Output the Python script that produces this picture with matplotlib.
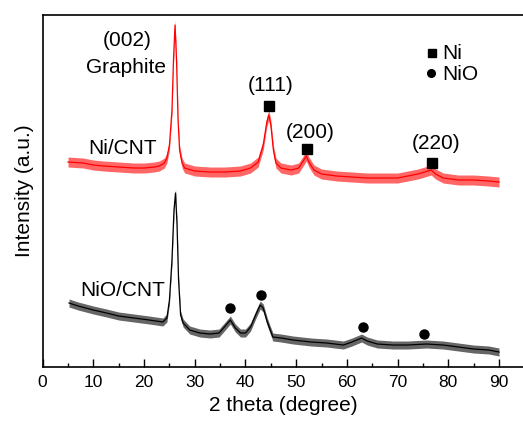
import numpy as np
import matplotlib
matplotlib.use('Agg')
import matplotlib.pyplot as plt
from matplotlib.ticker import MultipleLocator

plt.rcParams['font.family'] = ['Liberation Sans', 'DejaVu Sans']

# Ni/CNT pattern (red)
ni_x = [5, 8, 10, 12, 15, 18, 20, 22, 23, 24, 24.5, 25, 25.5, 25.8, 26.1, 26.4, 26.7, 27,
        27.5, 28, 30, 33, 36, 39, 41, 42.5, 43.5, 44.2, 44.6, 45, 45.5, 46, 47, 49, 50.5,
        51.5, 52, 52.5, 53.5, 55, 58, 61, 64, 67, 70, 72, 74, 76, 76.6, 77.5, 79, 82, 85,
        88, 90]
ni_y = [205, 204, 202, 201, 200, 199, 199, 200, 201, 204, 209, 222, 257, 307, 342, 307, 247, 217,
        204, 199, 196, 195, 195, 196, 199, 205, 222, 245, 252, 242, 217, 204, 199, 197, 199,
        207, 211, 205, 197, 193, 191, 190, 189, 189, 189, 191, 193, 196, 197, 193, 189, 187, 187,
        186, 185]

# NiO/CNT pattern (black)
nio_x = [5.2, 7, 10, 12.6, 15, 18, 21, 23.7, 24.5, 25, 25.5, 25.9, 26.2, 26.5, 26.8, 27.2,
         27.7, 29, 31, 33, 34.8, 36, 37, 38, 39, 40, 41, 42, 42.9, 43.5, 44.3, 45.4, 47,
         49.4, 53, 56, 59.3, 61, 62.9, 64, 66, 69.1, 72, 75.7, 79, 82, 85, 88, 90]
nio_y = [64, 61, 57, 54, 51, 49, 47, 45, 49, 67, 107, 157, 174, 142, 87, 52,
         44, 37, 34, 33, 34, 41, 47, 39, 34, 34, 40, 52, 62, 59, 45, 30, 29,
         27, 25, 24, 22, 25, 29, 26, 23, 22, 22, 23, 22, 20, 18, 17, 15]

# peak markers
ni_peak_x = [44.7, 52.2, 76.8]
ni_peak_y = [261, 218, 204]
ni_hkl = ['(111)', '(200)', '(220)']
nio_peak_x = [37.0, 43.1, 63.2, 75.2]
nio_peak_y = [59, 72, 40, 33]

fig = plt.figure(figsize=(5.23, 4.22), dpi=100)
ax = fig.add_axes([0.0816, 0.1303, 0.921, 0.8348])

# thin trace plus a band standing in for the noise
for xs, ys, c, band in [(ni_x, ni_y, 'red', 5), (nio_x, nio_y, 'black', 4)]:
    ya = np.array(ys)
    ax.fill_between(xs, ya - band, ya + band, color=c, alpha=0.6, lw=0)
    ax.plot(xs, ys, color=c, lw=0.9)

ax.plot(ni_peak_x, ni_peak_y, 's', color='black', ms=7.5, ls='none')
ax.plot(nio_peak_x, nio_peak_y, 'o', color='black', ms=6.5, ls='none')

fs = 15
ax.text(16.7, 327, '(002)', fontsize=fs, ha='center', va='center')
ax.text(16.4, 300, 'Graphite', fontsize=fs, ha='center', va='center')
ax.text(8.9, 219, 'Ni/CNT', fontsize=fs, ha='left', va='center')
ax.text(15.8, 77, 'NiO/CNT', fontsize=fs, ha='center', va='center')
for hx, hy, lab in zip([45.0, 52.8, 77.5], [282, 235, 224], ni_hkl):
    ax.text(hx, hy, lab, fontsize=fs, ha='center', va='center')

# legend made by hand
ax.plot([76.7], [314], 's', color='black', ms=5.5)
ax.plot([76.5], [294], 'o', color='black', ms=5.5)
ax.text(78.9, 314, 'Ni', fontsize=fs, ha='left', va='center')
ax.text(78.9, 293, 'NiO', fontsize=fs, ha='left', va='center')

ax.set_xlim(0, 95)
ax.set_ylim(0, 352.3)
ax.xaxis.set_major_locator(MultipleLocator(10))
ax.xaxis.set_minor_locator(MultipleLocator(5))
ax.tick_params(axis='x', which='major', direction='in', length=6, width=1, labelsize=12.5, pad=6)
ax.tick_params(axis='x', which='minor', direction='in', length=3, width=1)
ax.set_yticks([])
for s in ax.spines.values():
    s.set_linewidth(1.2)

ax.set_xlabel('2 theta (degree)', fontsize=15, labelpad=4)
ax.set_ylabel('Intensity (a.u.)', fontsize=15, labelpad=6)

fig.savefig('out.png', dpi=100)
